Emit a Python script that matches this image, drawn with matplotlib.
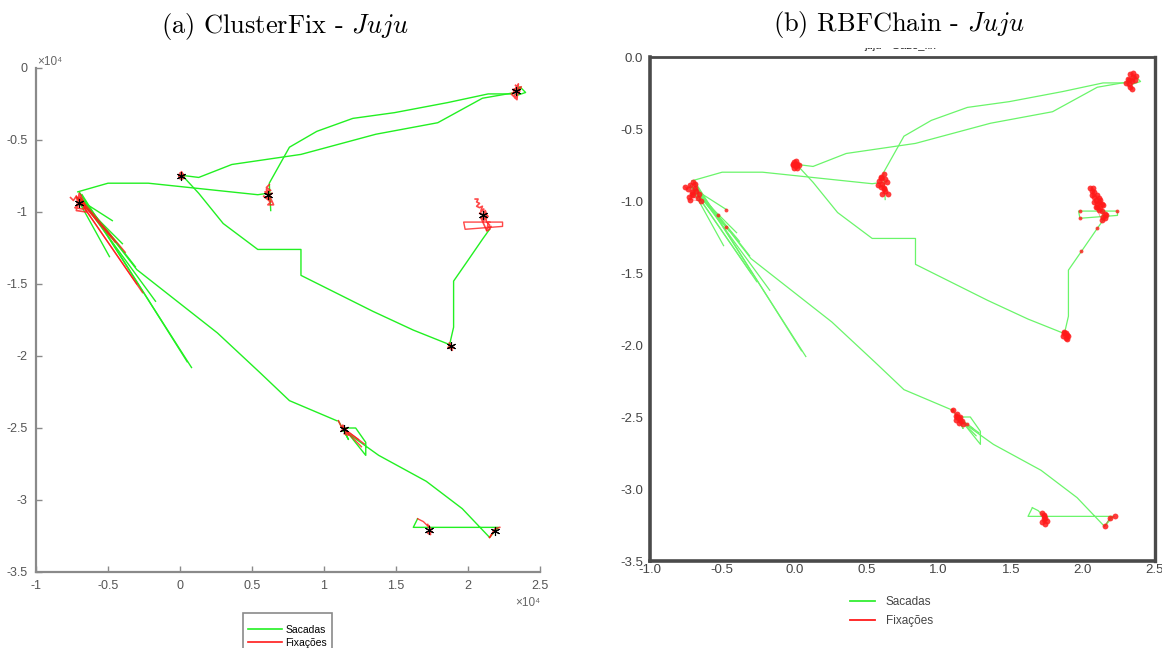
import matplotlib
matplotlib.use("Agg")
import matplotlib.pyplot as plt
import numpy as np
from matplotlib.lines import Line2D
from matplotlib.transforms import Bbox
from matplotlib import font_manager

W, H, DPI = 1162, 648, 100
SCALE = 1e4  # ClusterFix panel is in raw gaze units (x10^4)

plt.rcParams["mathtext.fontset"] = "cm"
available = {f.name for f in font_manager.fontManager.ttflist}
SANS = "Liberation Sans" if "Liberation Sans" in available else "DejaVu Sans"
NARROW = "Liberation Sans Narrow" if "Liberation Sans Narrow" in available else SANS
SERIF = "cmr10" if "cmr10" in available else "DejaVu Serif"

# ---------------- saccade paths (x, y) ----------------
sac_fb_x = [-0.71, -0.50, -0.22, 0.54, 0.61]
sac_fb_y = [-0.86, -0.80, -0.80, -0.88, -0.87]

sac_ac_x = [0.01, 0.13, 0.36, 0.84, 1.36, 1.79, 2.10, 2.33]
sac_ac_y = [-0.745, -0.76, -0.67, -0.60, -0.46, -0.38, -0.21, -0.17]

sac_bc_x = [0.63, 0.62, 0.76, 0.95, 1.20, 1.49, 1.86, 2.14, 2.31]
sac_bc_y = [-0.99, -0.80, -0.55, -0.44, -0.35, -0.31, -0.24, -0.18, -0.18]

sac_c_loop_x = [2.33, 2.36, 2.40, 2.34]
sac_c_loop_y = [-0.17, -0.13, -0.17, -0.19]

sac_ae_x = [0.01, 0.13, 0.30, 0.54, 0.84, 0.84, 1.08, 1.34, 1.62, 1.87]
sac_ae_y = [-0.74, -0.87, -1.08, -1.26, -1.26, -1.44, -1.56, -1.69, -1.82, -1.92]

sac_ed_x = [1.87, 1.90, 1.90, 1.99, 2.10, 2.15]
sac_ed_y = [-1.93, -1.80, -1.48, -1.35, -1.19, -1.12]

sac_fg_x = [-0.69, -0.30, 0.26, 0.56, 0.76, 1.09]
sac_fg_y = [-0.90, -1.40, -1.84, -2.12, -2.31, -2.45]

sac_gh_x = [1.10, 1.17, 1.13, 1.22, 1.29, 1.29, 1.17, 1.38, 1.71, 1.96, 2.15, 2.21, 1.62, 1.65]
sac_gh_y = [-2.45, -2.58, -2.50, -2.50, -2.60, -2.69, -2.54, -2.69, -2.87, -3.06, -3.26, -3.19, -3.19, -3.13]

# fan of short saccades leaving the left-hand fixation
fan_x0 = [-0.70, -0.68, -0.72, -0.70, -0.67, -0.66, -0.71]
fan_y0 = [-0.86, -0.88, -0.90, -0.93, -0.92, -0.95, -0.91]
fan_x1 = [0.08, 0.05, -0.47, -0.49, -0.31, -0.17, -0.40]
fan_y1 = [-2.08, -2.04, -1.06, -1.31, -1.38, -1.62, -1.22]

# segments labelled fixation by ClusterFix but saccade by RBFChain
amb_rect_x = [2.15, 1.97, 1.98, 2.24, 2.24, 2.14, 2.13]
amb_rect_y = [-1.07, -1.07, -1.12, -1.10, -1.07, -1.07, -1.13]
amb_fan_x0 = [-0.70, -0.71, -0.69, -0.72, -0.68]
amb_fan_y0 = [-0.92, -0.90, -0.91, -0.89, -0.94]
amb_fan_x1 = [-0.26, -0.48, -0.38, -0.30, -0.45]
amb_fan_y1 = [-1.56, -1.17, -1.28, -1.50, -1.21]
amb_g_x0 = [1.13, 1.15, 1.12]
amb_g_y0 = [-2.50, -2.52, -2.49]
amb_g_x1 = [1.28, 1.26, 1.24]
amb_g_y1 = [-2.61, -2.63, -2.58]
amb_tail_x = [2.15, 2.19]
amb_tail_y = [-3.26, -3.20]
amb_h_x = [1.65, 1.69, 1.72]
amb_h_y = [-3.13, -3.15, -3.18]

# ---------------- fixation samples ----------------
fix_a_x = [0.00, 0.02, 0.01, -0.01, 0.03, 0.01, 0.00, 0.02, -0.01, 0.01]
fix_a_y = [-0.73, -0.74, -0.76, -0.75, -0.75, -0.72, -0.77, -0.77, -0.74, -0.75]
fix_b_x = [0.62, 0.60, 0.63, 0.59, 0.61, 0.64, 0.60, 0.62, 0.58, 0.63, 0.61, 0.65, 0.60, 0.62]
fix_b_y = [-0.81, -0.83, -0.85, -0.86, -0.88, -0.87, -0.90, -0.91, -0.89, -0.93, -0.95, -0.95, -0.84, -0.92]
fix_c_x = [2.33, 2.35, 2.31, 2.34, 2.36, 2.32, 2.33, 2.37, 2.30, 2.34, 2.35, 2.32]
fix_c_y = [-0.12, -0.14, -0.15, -0.17, -0.16, -0.19, -0.21, -0.13, -0.18, -0.22, -0.11, -0.16]
fix_d_x = [2.05, 2.07, 2.06, 2.08, 2.06, 2.08, 2.10, 2.09, 2.11, 2.08, 2.10, 2.12, 2.13, 2.10,
           2.12, 2.14, 2.11, 2.13, 2.15, 2.14, 2.16, 2.15, 2.13, 2.09, 2.11]
fix_d_y = [-0.91, -0.91, -0.93, -0.94, -0.96, -0.97, -0.96, -0.99, -0.98, -1.01, -1.02, -0.99,
           -1.02, -1.04, -1.05, -1.03, -1.01, -1.07, -1.09, -1.11, -1.10, -1.12, -1.13, -1.04, -1.06]
fix_e_x = [1.87, 1.88, 1.89, 1.86, 1.88, 1.90, 1.87, 1.89]
fix_e_y = [-1.91, -1.92, -1.93, -1.94, -1.95, -1.94, -1.92, -1.96]
fix_f_x = [-0.76, -0.74, -0.72, -0.71, -0.69, -0.70, -0.68, -0.73, -0.67, -0.66, -0.70, -0.72, -0.65, -0.69, -0.71]
fix_f_y = [-0.90, -0.92, -0.89, -0.94, -0.91, -0.96, -0.93, -0.97, -0.98, -0.95, -0.87, -0.99, -1.00, -0.88, -0.95]
fix_g_x = [1.10, 1.12, 1.13, 1.14, 1.12, 1.15, 1.16, 1.14, 1.17, 1.13, 1.15]
fix_g_y = [-2.45, -2.49, -2.50, -2.51, -2.52, -2.50, -2.53, -2.54, -2.55, -2.48, -2.52]
fix_h_x = [1.72, 1.73, 1.74, 1.73, 1.75, 1.72, 1.74, 1.73]
fix_h_y = [-3.17, -3.19, -3.20, -3.21, -3.22, -3.23, -3.24, -3.18]
fix_i_x = [2.22, 2.19, 2.15]
fix_i_y = [-3.19, -3.20, -3.26]

# isolated fixation samples flagged by RBFChain
lone_x = [-0.47, -0.47, -0.53, 1.99, 2.10, 1.98, 1.98, 2.24, 1.09, 1.20]
lone_y = [-1.06, -1.18, -1.10, -1.35, -1.19, -1.07, -1.12, -1.07, -2.45, -2.55]

x_ticks = [-1.0, -0.5, 0.0, 0.5, 1.0, 1.5, 2.0, 2.5]
y_ticks = [-3.5, -3.0, -2.5, -2.0, -1.5, -1.0, -0.5, 0.0]
legend_labels = ["Sacadas", "Fixações"]

saccades = [(sac_fb_x, sac_fb_y), (sac_ac_x, sac_ac_y), (sac_bc_x, sac_bc_y),
            (sac_c_loop_x, sac_c_loop_y), (sac_ae_x, sac_ae_y), (sac_ed_x, sac_ed_y),
            (sac_fg_x, sac_fg_y), (sac_gh_x, sac_gh_y)]
saccades += [([a, b], [c, d]) for a, b, c, d in zip(fan_x0, fan_x1, fan_y0, fan_y1)]
ambiguous = [(amb_rect_x, amb_rect_y), (amb_tail_x, amb_tail_y), (amb_h_x, amb_h_y)]
ambiguous += [([a, b], [c, d]) for a, b, c, d in zip(amb_fan_x0, amb_fan_x1, amb_fan_y0, amb_fan_y1)]
ambiguous += [([a, b], [c, d]) for a, b, c, d in zip(amb_g_x0, amb_g_x1, amb_g_y0, amb_g_y1)]
fixations = [(fix_a_x, fix_a_y), (fix_b_x, fix_b_y), (fix_c_x, fix_c_y), (fix_d_x, fix_d_y),
             (fix_e_x, fix_e_y), (fix_f_x, fix_f_y), (fix_g_x, fix_g_y), (fix_h_x, fix_h_y),
             (fix_i_x, fix_i_y)]

GREEN_L = "#22f022"
GREEN_R = "#6af56a"
RED = "#ff1a1a"

fig = plt.figure(figsize=(W / DPI, H / DPI), dpi=DPI)


def px_axes(x0, y0, x1, y1):
    return fig.add_axes([x0 / W, 1 - y1 / H, (x1 - x0) / W, (y1 - y0) / H])


# ---------------- (a) ClusterFix ----------------
axL = px_axes(36, 68, 540, 572)
for xs, ys in saccades:
    axL.plot(np.array(xs) * SCALE, ys, color=GREEN_L, lw=1.0, zorder=2)
for xs, ys in ambiguous:
    axL.plot(np.array(xs) * SCALE, ys, color=RED, lw=1.0, alpha=0.8, zorder=3)
for xs, ys in fixations:
    axL.plot(np.array(xs) * SCALE, ys, color=RED, lw=1.2, alpha=0.8, zorder=3)
    axL.plot(np.mean(xs) * SCALE, np.mean(ys), marker=(6, 2, 0), ms=6.5, mew=0.8,
             color="black", zorder=4)
axL.set_xlim(x_ticks[0] * SCALE, x_ticks[-1] * SCALE)
axL.set_ylim(y_ticks[0], y_ticks[-1])
axL.set_xticks([t * SCALE for t in x_ticks])
axL.set_xticklabels([f"{t:g}" for t in x_ticks])
axL.set_yticks(y_ticks)
axL.set_yticklabels([f"{t:g}" for t in y_ticks])
for s in ["top", "right"]:
    axL.spines[s].set_visible(False)
for s in ["left", "bottom"]:
    axL.spines[s].set_color("#8a8a8a")
    axL.spines[s].set_linewidth(1.6)
axL.tick_params(direction="in", length=4, width=1, color="#8a8a8a",
                labelcolor="#555555", labelsize=9, pad=6)
for lab in axL.get_xticklabels() + axL.get_yticklabels():
    lab.set_family(SANS)
fig.text(37 / W, 1 - 62 / H, "×10⁴", color="#666666", fontsize=8.5,
         ha="left", va="center", family=[SANS, "DejaVu Sans"])
fig.text(540 / W, 1 - 603 / H, "×10⁴", color="#666666", fontsize=8.5,
         ha="right", va="center", family=[SANS, "DejaVu Sans"])

handlesL = [Line2D([], [], color=GREEN_L, lw=1.2), Line2D([], [], color=RED, lw=1.2)]
legL = fig.legend(handlesL, legend_labels, loc="upper left",
                  bbox_to_anchor=(243 / W, 1 - 613 / H), frameon=True, fancybox=False,
                  edgecolor="#8a8a8a", framealpha=1, handlelength=3.3,
                  handletextpad=0.3, borderpad=0.45, labelspacing=0.3, borderaxespad=0,
                  title=" ", title_fontsize=3,
                  prop={"family": SANS, "size": 7.5})
legL.get_frame().set_linewidth(1.2)

# ---------------- (b) RBFChain ----------------
axR = px_axes(650, 57, 1155, 561)
for xs, ys in saccades + ambiguous:
    axR.plot(xs, ys, color=GREEN_R, lw=0.9, zorder=2)
for xs, ys in fixations:
    axR.plot(xs, ys, color=RED, lw=0.6, alpha=0.5, zorder=3)
    axR.plot(xs, ys, ls="none", marker="o", ms=4.2, mec="none", color=RED, alpha=0.85, zorder=4)
axR.plot(lone_x, lone_y, ls="none", marker="o", ms=2.8, mec="none", color=RED, alpha=0.8, zorder=4)
axR.set_xlim(x_ticks[0], x_ticks[-1])
axR.set_ylim(y_ticks[0], y_ticks[-1])
axR.set_xticks(x_ticks)
axR.set_xticklabels([f"{t:.1f}" for t in x_ticks])
axR.set_yticks(y_ticks)
axR.set_yticklabels([f"{t:.1f}" for t in y_ticks])
for s, lw in [("left", 2.6), ("bottom", 2.6), ("top", 2.0), ("right", 2.4)]:
    axR.spines[s].set_color("#4a4a4a")
    axR.spines[s].set_linewidth(lw)
axR.tick_params(axis="both", length=0, labelcolor="#444444", labelsize=9.5)
axR.tick_params(axis="x", pad=2)
axR.tick_params(axis="y", pad=5)
for lab in axR.get_xticklabels() + axR.get_yticklabels():
    lab.set_family(NARROW)

# plot caption of the exported figure, cut off by the frame above the axes
cap = fig.text(900 / W, 1 - 46 / H, "juju - Gaze_fix", fontsize=8, ha="center",
               va="center", color="#222222", family=SANS)
cap.set_clip_box(Bbox([[0, H - 56], [W, H - 48]]))
cap.set_clip_on(True)

handlesR = [Line2D([], [], color="#33ee33", lw=1.3), Line2D([], [], color=RED, lw=1.3)]
fig.legend(handlesR, legend_labels, loc="upper left", bbox_to_anchor=(848 / W, 1 - 594 / H),
           frameon=False, handlelength=2.1, handletextpad=0.9, labelspacing=0.55,
           borderaxespad=0, borderpad=0.2,
           prop={"family": SANS, "size": 8.5}, labelcolor="#444444")

# ---------------- panel titles ----------------
fig.text(285 / W, 1 - 27 / H, r"(a) ClusterFix - $\mathit{Juju}$", family=SERIF,
         fontsize=19, ha="center", va="center")
fig.text(899 / W, 1 - 25 / H, r"(b) RBFChain - $\mathit{Juju}$", family=SERIF,
         fontsize=19, ha="center", va="center")

fig.savefig("out.png", dpi=DPI)
